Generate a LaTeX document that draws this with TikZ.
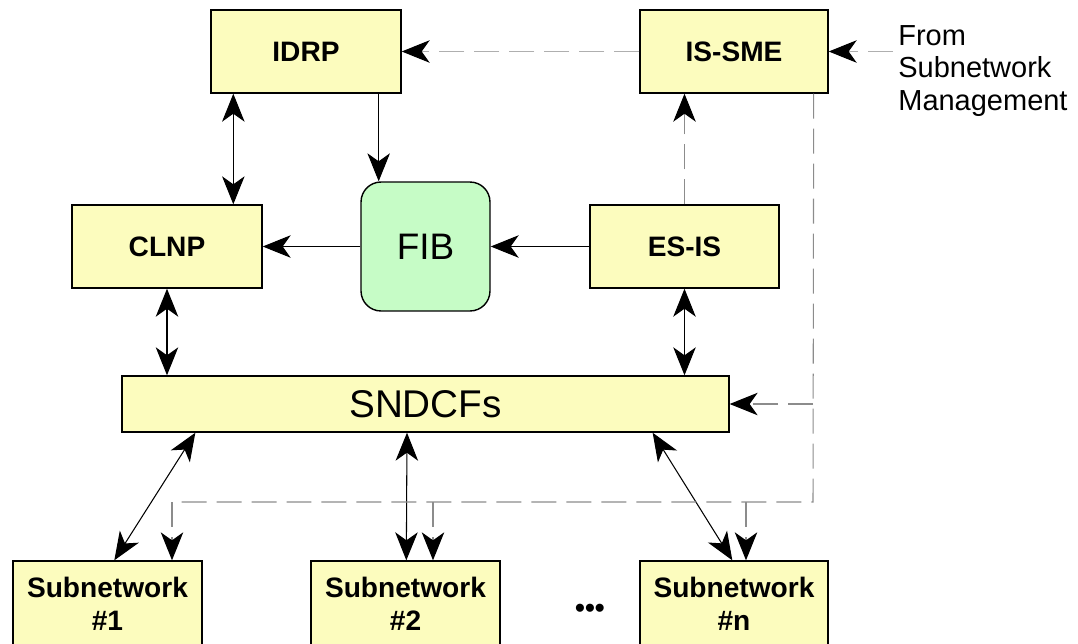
\documentclass[tikz,border=0pt]{standalone}
\usepackage{fontspec}
\setmainfont{Liberation Sans}
\usetikzlibrary{arrows.meta,positioning,calc}
\definecolor{boxyellow}{RGB}{252,252,190}
\definecolor{fibgreen}{RGB}{198,252,198}
\definecolor{dashgray}{RGB}{140,140,140}

\begin{document}
\begin{tikzpicture}[x=0.02cm, y=-0.02cm,
            >={Stealth[length=0.56cm,width=0.45cm,inset=0.16cm]},
            box/.style={draw, thick, fill=boxyellow, minimum width=3.8cm, minimum height=1.66cm,
                        align=center, font=\bfseries\fontsize{16}{18.5}\selectfont},
            link/.style={draw, line width=0.6pt},
            dashlink/.style={draw=dashgray, line width=0.6pt, dash pattern=on 0.5cm off 0.2cm},
            dashto/.style={dashlink, -{Stealth[length=0.56cm,width=0.45cm,inset=0.16cm,color=black]}}]
        \useasboundingbox (0,0) rectangle (1078,643);
        \node[box] (nodeIDRP) at (306,51.5) {IDRP};
        \node[box, minimum width=3.76cm] (nodeSME) at (734,51.5) {IS-SME};
        \node[box] (nodeCLNP) at (167,246.5) {CLNP};
        \node[box, minimum width=3.78cm] (nodeESIS) at (684.5,246.5) {ES-IS};
        \node[draw, thick, fill=fibgreen, rounded corners=0.4cm, minimum size=2.58cm,
              font=\fontsize{21}{24}\selectfont] (nodeFIB) at (425.5,246.5) {FIB};
        \node[box, minimum width=12.14cm, minimum height=1.12cm,
              font=\fontsize{22}{26}\selectfont] (nodeSNDCF) at (425.5,404) {SNDCFs};
        \node[box, minimum width=3.78cm, minimum height=1.72cm] (nodeSubA) at (107.5,604) {Subnetwork\\\#1};
        \node[box, minimum width=3.78cm, minimum height=1.72cm] (nodeSubB) at (405.5,604) {Subnetwork\\\#2};
        \node[box, minimum width=3.76cm, minimum height=1.72cm] (nodeSubN) at (734,604) {Subnetwork\\\#n};
        \node[font=\bfseries\fontsize{16}{18}\selectfont] (nodeDots) at (590,611) {\textbullet\textbullet\textbullet};
        \node[align=left, anchor=north west, inner sep=0pt,
              font=\fontsize{16.5}{18.5}\selectfont] (nodeFrom) at (898,25) {From\\Subnetwork\\Management};

        % solid links
        \coordinate (idrpOut) at ($(nodeIDRP.south east)+(-23,0)$);
        \draw[link,<->] ($(nodeIDRP.south west)+(23,0)$) -- ($(nodeCLNP.north west)+(162,0)$);
        \draw[link,->] (idrpOut) -- (idrpOut |- nodeFIB.north);
        \draw[link,->] (nodeFIB.west) -- (nodeCLNP.east);
        \draw[link,->] (nodeESIS.west) -- (nodeFIB.east);
        \draw[link,<->] (nodeCLNP.south) -- (nodeCLNP.south |- nodeSNDCF.north);
        \draw[link,<->] (nodeESIS.south) -- (nodeESIS.south |- nodeSNDCF.north);
        \draw[link,<->] ($(nodeSNDCF.south west)+(74,0)$) -- ($(nodeSubA.north west)+(102,0)$);
        \draw[link,<->] ($(nodeSNDCF.south)+(-18.5,0)$) -- ($(nodeSubB.north west)+(96,0)$);
        \draw[link,<->] ($(nodeSNDCF.south east)+(-77,0)$) -- ($(nodeSubN.north west)+(93,0)$);

        % management links
        \coordinate (busR) at (813,502);
        \coordinate (busL) at (172,502);
        \coordinate (dropB) at (433,502);
        \coordinate (dropN) at (746,502);
        \draw[dashto, draw=dashgray!70] (nodeSME.west) -- (nodeIDRP.east);
        \draw[dashto, draw=dashgray!70] ($(nodeFrom.west |- nodeSME.east)+(-5,0)$) -- (nodeSME.east);
        \draw[dashto] (nodeESIS.north) -- (nodeESIS.north |- nodeSME.south);
        \draw[dashlink] ($(nodeSME.south east)+(-15,0)$) -- (busR) -- (busL);
        \draw[dashto] (busR |- nodeSNDCF.east) -- (nodeSNDCF.east);
        \draw[dashto] (busL) -- (busL |- nodeSubA.north);
        \draw[dashto] (dropB) -- (dropB |- nodeSubB.north);
        \draw[dashto] (dropN) -- (dropN |- nodeSubN.north);
\end{tikzpicture}
\end{document}
